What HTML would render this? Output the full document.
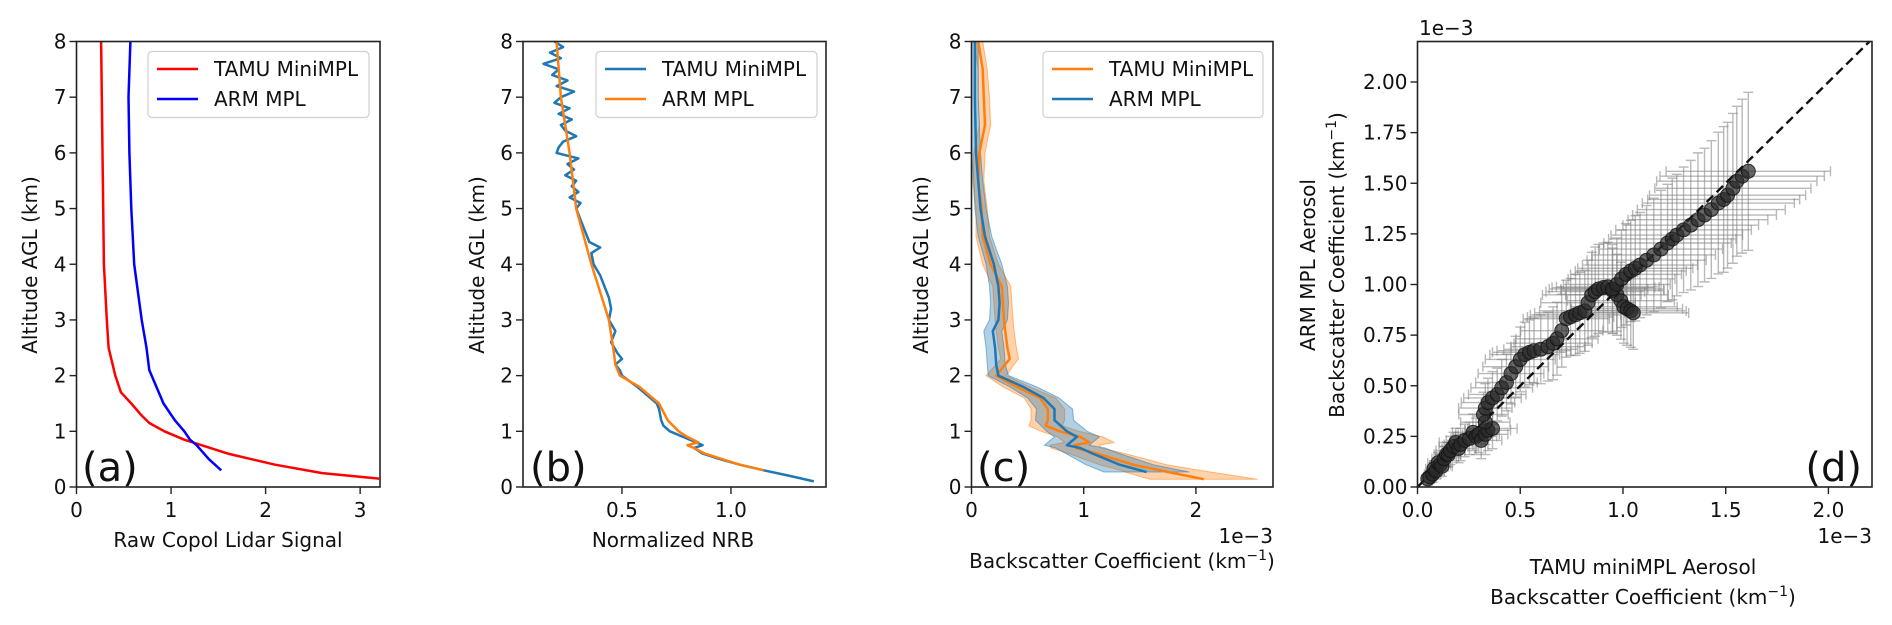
<!DOCTYPE html>
<html><head><meta charset="utf-8">
<style>
html,body{margin:0;padding:0;background:#fff;}
svg{display:block;font-family:"DejaVu Sans","Liberation Sans",sans-serif;}
</style></head>
<body>
<svg id="fig" width="1892" height="625" viewBox="0 0 1892 625" xmlns="http://www.w3.org/2000/svg"></svg>
<script>
// ---------- Panel (a) data ----------
const aRedAlt = [8,4,3,2.5,2,1.7,1.5,1.3,1.15,1.0,0.85,0.6,0.4,0.25,0.15];
const aRedVal = [0.26,0.29,0.32,0.34,0.41,0.47,0.58,0.68,0.77,0.93,1.14,1.6,2.1,2.6,3.2];
const aBlueAlt = [8,7,6,5,4,3,2.5,2.1,1.5,1.2,1.0,0.85,0.75,0.5,0.3];
const aBlueVal = [0.57,0.55,0.56,0.58,0.61,0.69,0.74,0.77,0.92,1.04,1.14,1.2,1.27,1.4,1.53];
const aXTicks = [0,1,2,3];
// ---------- Panel (b) data ----------
const bBlueAlt = [8,7.9,7.8,7.7,7.6,7.5,7.4,7.3,7.2,7.1,7.0,6.9,6.8,6.7,6.6,6.5,6.4,6.3,6.2,6.1,6.0,5.9,5.8,5.7,5.6,5.5,5.4,5.3,5.2,5.1,5.0,4.8,4.6,4.4,4.3,4.2,4.0,3.8,3.6,3.4,3.2,3.0,2.8,2.6,2.4,2.3,2.2,2.1,2.0,1.8,1.6,1.5,1.4,1.2,1.1,1.0,0.9,0.8,0.75,0.7,0.6,0.5,0.4,0.3,0.2,0.1];
const bBlueVal = [0.19,0.23,0.17,0.22,0.14,0.21,0.18,0.25,0.2,0.28,0.22,0.19,0.26,0.21,0.27,0.22,0.24,0.29,0.23,0.21,0.20,0.30,0.25,0.28,0.24,0.29,0.27,0.30,0.26,0.31,0.29,0.31,0.33,0.35,0.40,0.36,0.37,0.40,0.42,0.44,0.45,0.44,0.47,0.45,0.48,0.50,0.47,0.49,0.50,0.57,0.63,0.66,0.67,0.68,0.69,0.72,0.78,0.84,0.87,0.83,0.87,0.95,1.04,1.15,1.27,1.38];
const bOrangeAlt = [8,7,6,5,4,3,2.5,2.2,2.0,1.8,1.5,1.2,1.0,0.9,0.8,0.75,0.7,0.6,0.4,0.3];
const bOrangeVal = [0.20,0.22,0.26,0.29,0.36,0.44,0.46,0.47,0.49,0.58,0.67,0.71,0.76,0.80,0.85,0.80,0.83,0.88,1.04,1.15];
const bXTicks = [0.5,1.0];
// ---------- Panel (c) data (1e-3 km^-1) ----------
const cAlt = [8,7.5,7,6.5,6.2,6,5.5,5,4.5,4,3.6,3.3,3,2.8,2.5,2.3,2.2,2,1.8,1.6,1.4,1.2,1.1,1,0.9,0.8,0.75,0.7,0.6,0.4,0.3,0.27,0.14];
const cOrange = [0.06,0.10,0.11,0.12,0.09,0.07,0.06,0.09,0.10,0.17,0.27,0.28,0.29,0.30,0.32,0.34,0.30,0.22,0.40,0.61,0.68,0.68,0.66,0.79,0.97,1.05,0.92,0.93,1.12,1.44,1.68,1.75,2.07];
const cOrangeErr = [0.04,0.04,0.05,0.05,0.05,0.05,0.05,0.05,0.06,0.07,0.08,0.08,0.08,0.08,0.08,0.08,0.08,0.09,0.12,0.14,0.15,0.15,0.15,0.17,0.2,0.22,0.22,0.22,0.25,0.3,0.35,0.38,0.48];
const cBlueAlt = [8,7,6,5.5,5,4.5,4,3.6,3.3,3,2.8,2.5,2.2,2,1.8,1.6,1.4,1.2,1,0.9,0.8,0.75,0.7,0.6,0.4,0.27];
const cBlue = [0.03,0.03,0.04,0.06,0.08,0.12,0.20,0.24,0.25,0.24,0.19,0.21,0.22,0.24,0.46,0.64,0.74,0.74,0.85,0.94,0.88,0.85,0.97,1.08,1.32,1.56];
const cBlueErr = [0.03,0.03,0.04,0.04,0.05,0.06,0.07,0.08,0.08,0.08,0.08,0.08,0.08,0.09,0.12,0.14,0.16,0.17,0.18,0.2,0.2,0.2,0.22,0.24,0.3,0.38];
const cXTicks = [0,1,2];
// ---------- Panel (d) data (1e-3 km^-1) ----------
const dX = [0.05,0.06,0.074,0.08,0.09,0.10,0.11,0.119,0.13,0.141,0.15,0.16,0.175,0.186,0.2,0.21,0.23,0.253,0.27,0.285,0.298,0.31,0.33,0.343,0.365,0.33,0.321,0.33,0.343,0.365,0.388,0.41,0.433,0.455,0.478,0.50,0.522,0.545,0.567,0.60,0.635,0.66,0.679,0.702,0.724,0.745,0.769,0.79,0.814,0.83,0.848,0.865,0.881,0.905,0.926,0.95,0.971,0.99,1.004,1.02,1.038,1.05,0.948,0.97,0.993,1.015,1.038,1.06,1.083,1.115,1.150,1.185,1.217,1.24,1.262,1.295,1.330,1.365,1.397,1.43,1.464,1.49,1.509,1.535,1.554,1.58,1.610];
const dY = [0.04,0.05,0.063,0.09,0.08,0.12,0.11,0.102,0.14,0.161,0.16,0.18,0.2,0.220,0.19,0.21,0.23,0.240,0.27,0.25,0.260,0.23,0.26,0.280,0.289,0.32,0.358,0.39,0.417,0.44,0.457,0.49,0.516,0.56,0.594,0.63,0.654,0.665,0.673,0.68,0.693,0.71,0.732,0.772,0.831,0.84,0.850,0.86,0.870,0.91,0.949,0.965,0.978,0.985,0.988,0.97,0.949,0.92,0.890,0.88,0.870,0.860,0.978,1.0,1.028,1.05,1.067,1.08,1.096,1.12,1.146,1.175,1.205,1.225,1.244,1.27,1.293,1.32,1.343,1.37,1.402,1.42,1.441,1.475,1.510,1.535,1.559];
const dXErr = [0.03,0.03,0.04,0.04,0.04,0.05,0.05,0.05,0.06,0.06,0.06,0.07,0.07,0.08,0.08,0.08,0.09,0.09,0.1,0.1,0.1,0.1,0.11,0.11,0.12,0.12,0.12,0.13,0.13,0.14,0.14,0.15,0.15,0.16,0.16,0.17,0.17,0.18,0.18,0.18,0.18,0.19,0.2,0.2,0.21,0.21,0.22,0.22,0.22,0.23,0.24,0.24,0.24,0.25,0.25,0.25,0.25,0.26,0.26,0.27,0.27,0.27,0.25,0.26,0.26,0.27,0.27,0.28,0.28,0.29,0.3,0.3,0.31,0.31,0.32,0.33,0.33,0.34,0.35,0.36,0.37,0.37,0.38,0.38,0.39,0.4,0.4];
const dYErr = [0.03,0.03,0.04,0.04,0.04,0.05,0.05,0.05,0.06,0.06,0.06,0.07,0.07,0.07,0.07,0.08,0.08,0.08,0.09,0.09,0.09,0.09,0.1,0.1,0.1,0.11,0.11,0.12,0.12,0.13,0.13,0.14,0.14,0.15,0.15,0.16,0.16,0.16,0.16,0.17,0.17,0.18,0.18,0.18,0.19,0.19,0.2,0.2,0.2,0.21,0.21,0.22,0.22,0.22,0.22,0.21,0.2,0.19,0.18,0.18,0.18,0.18,0.22,0.23,0.24,0.25,0.25,0.26,0.26,0.27,0.28,0.29,0.29,0.3,0.3,0.31,0.32,0.33,0.33,0.34,0.35,0.36,0.36,0.37,0.37,0.38,0.39];
const dXTicks = [0.0,0.5,1.0,1.5,2.0];
const dYTicks = [0.00,0.25,0.50,0.75,1.00,1.25,1.50,1.75,2.00];
const altTicks = [0,1,2,3,4,5,6,7,8];

const NS = "http://www.w3.org/2000/svg";
const svg = document.getElementById('fig');
function el(tag, attrs, parent){ const e=document.createElementNS(NS,tag); for(const k in attrs) e.setAttribute(k,attrs[k]); (parent||svg).appendChild(e); return e; }
function txt(s, attrs, parent){ const t=el('text',attrs,parent); t.textContent=s; return t; }

const TOP=41.5, BOT=487;
function makeAxes(name, x0, x1, xmin, xmax, ymin, ymax, y0=TOP, y1=BOT){
  const g = el('g',{});
  
  
  return {g, sx:v=>x0+(v-xmin)/(xmax-xmin)*(x1-x0), sy:v=>y1-(v-ymin)/(ymax-ymin)*(y1-y0), x0,x1,y0,y1};
}
function frame(ax){
  const r = el('rect',{x:ax.x0,y:ax.y0,width:ax.x1-ax.x0,height:ax.y1-ax.y0,fill:'none',stroke:'#222','stroke-width':1.6},ax.g);
  
  
}
function xticks(ax, ticks, fmt){
  const g = el('g',{},ax.g);
  
  
  ticks.forEach(t=>{ const x=ax.sx(t);
    el('line',{x1:x,x2:x,y1:ax.y1,y2:ax.y1+7,stroke:'#222','stroke-width':1.4},g);
    txt(fmt(t),{x:x,y:ax.y1+30,'text-anchor':'middle','font-size':20,fill:'#111'},g); });
}
function yticks(ax, ticks, fmt){
  const g = el('g',{},ax.g);
  
  
  ticks.forEach(t=>{ const y=ax.sy(t);
    el('line',{x1:ax.x0-7,x2:ax.x0,y1:y,y2:y,stroke:'#222','stroke-width':1.4},g);
    txt(fmt(t),{x:ax.x0-10,y:y+7,'text-anchor':'end','font-size':20,fill:'#111'},g); });
}
function line(ax, xs, ys, color, name, w=2.5){
  const d = xs.map((v,i)=>(i?'L':'M')+ax.sx(v).toFixed(1)+','+ax.sy(ys[i]).toFixed(1)).join('');
  const p = el('path',{d, fill:'none', stroke:color,'stroke-width':w,'stroke-linejoin':'round'},ax.g);
  
  
  return p;
}
function band(ax, vals, errs, alts, color, name){
  const up = vals.map((v,i)=>ax.sx(v+errs[i]).toFixed(1)+','+ax.sy(alts[i]).toFixed(1));
  const lo = vals.map((v,i)=>ax.sx(Math.max(0,v-errs[i])).toFixed(1)+','+ax.sy(alts[i]).toFixed(1)).reverse();
  const p = el('polygon',{points:up.concat(lo).join(' '), fill:color,'fill-opacity':0.35, stroke:color,'stroke-opacity':0.5,'stroke-width':1},ax.g);
  
  
}
function legend(x, y, w, items, name){
  const g = el('g',{});
  
  
  el('rect',{x, y, width:w, height:66, rx:4, fill:'#fff','fill-opacity':0.85, stroke:'#d0d0d0','stroke-width':1.2},g);
  items.forEach((it,i)=>{ const yy=y+17.5+i*30;
    el('line',{x1:x+9,x2:x+50,y1:yy,y2:yy,stroke:it[1],'stroke-width':2.5},g);
    const t = txt(it[0],{x:x+66,y:yy+7,'font-size':20,fill:'#111'},g);
    
     });
}
function label(s, attrs, name){ const t=txt(s,attrs);   return t; }
function ylab(s, x, y, name){ return label(s,{x, y, transform:`rotate(-90 ${x} ${y})`, 'text-anchor':'middle','font-size':20,fill:'#111'}, name); }

// ---------- Panel (a) ----------
const A = makeAxes('panel-a', 76.5, 380, 0, 3.21, 0, 8);
line(A, aRedVal, aRedAlt, '#ff0000', 'tamu-minimpl-line');
line(A, aBlueVal, aBlueAlt, '#0000ff', 'arm-mpl-line');
frame(A);
xticks(A, aXTicks, t=>String(t));
yticks(A, altTicks, t=>String(t));
legend(148, 51.5, 221, [['TAMU MiniMPL','#ff0000'],['ARM MPL','#0000ff']], 'legend-a');
ylab('Altitude AGL (km)', 37, 265, 'y-axis-title-a');
label('Raw Copol Lidar Signal',{x:228,y:547,'text-anchor':'middle','font-size':20,fill:'#111'},'x-axis-title-a');
label('(a)',{x:82,y:481,'font-size':40,fill:'#111'},'panel-label-a');

// ---------- Panel (b) ----------
const B = makeAxes('panel-b', 523, 826, 0.046, 1.436, 0, 8);
line(B, bBlueVal, bBlueAlt, '#1f77b4', 'tamu-minimpl-line');
line(B, bOrangeVal, bOrangeAlt, '#ff7f0e', 'arm-mpl-line');
frame(B);
xticks(B, bXTicks, t=>t.toFixed(1));
yticks(B, altTicks, t=>String(t));
legend(596, 51.5, 221, [['TAMU MiniMPL','#1f77b4'],['ARM MPL','#ff7f0e']], 'legend-b');
ylab('Altitude AGL (km)', 484, 265, 'y-axis-title-b');
label('Normalized NRB',{x:673,y:547,'text-anchor':'middle','font-size':20,fill:'#111'},'x-axis-title-b');
label('(b)',{x:530,y:481,'font-size':40,fill:'#111'},'panel-label-b');

// ---------- Panel (c) ----------
const C = makeAxes('panel-c', 971.5, 1273, 0, 2.687, 0, 8);
band(C, cOrange, cOrangeErr, cAlt, '#ff7f0e', 'tamu-uncertainty-band');
band(C, cBlue, cBlueErr, cBlueAlt, '#1f77b4', 'arm-uncertainty-band');
line(C, cOrange, cAlt, '#ff7f0e', 'tamu-minimpl-line');
line(C, cBlue, cBlueAlt, '#1f77b4', 'arm-mpl-line');
frame(C);
xticks(C, cXTicks, t=>String(t));
yticks(C, altTicks, t=>String(t));
legend(1043, 51.5, 220, [['TAMU MiniMPL','#ff7f0e'],['ARM MPL','#1f77b4']], 'legend-c');
ylab('Altitude AGL (km)', 928, 265, 'y-axis-title-c');
label('1e\u22123',{x:1273,y:543,'text-anchor':'end','font-size':20,fill:'#111'},'x-offset-c');
const cl = label('Backscatter Coefficient (km',{x:1122,y:568,'text-anchor':'middle','font-size':20,fill:'#111'},'x-axis-title-c');
el('tspan',{dy:-8,'font-size':14},cl).textContent='\u22121';
el('tspan',{dy:8},cl).textContent=')';
label('(c)',{x:977,y:481,'font-size':40,fill:'#111'},'panel-label-c');

// ---------- Panel (d) ----------
const D = makeAxes('panel-d', 1417.5, 1872, 0, 2.212, 0, 2.2);
const eg = el('g',{},D.g);


dX.forEach((x,i)=>{ const y=dY[i];
  const xa=D.sx(x-dXErr[i]), xb=D.sx(x+dXErr[i]), yy=D.sy(y);
  const ya=D.sy(y-dYErr[i]), yb=D.sy(y+dYErr[i]), xx=D.sx(x);
  el('path',{d:`M${xa},${yy}H${xb}M${xa},${yy-5}V${yy+5}M${xb},${yy-5}V${yy+5}M${xx},${ya}V${yb}M${xx-5},${ya}H${xx+5}M${xx-5},${yb}H${xx+5}`,stroke:'#808080','stroke-opacity':0.55,'stroke-width':1.4,fill:'none'},eg);
});
const dl = el('line',{x1:D.sx(0),y1:D.sy(0),x2:D.sx(2.2),y2:D.sy(2.2),stroke:'#111','stroke-width':2.4,'stroke-dasharray':'9,5'},D.g);


dX.forEach((x,i)=>{
  const c = el('circle',{cx:D.sx(x),cy:D.sy(dY[i]),r:7,fill:'#2a2a2a','fill-opacity':0.7,stroke:'#111','stroke-opacity':0.8,'stroke-width':1},D.g);
  
  
});
frame(D);
xticks(D, dXTicks, t=>t.toFixed(1));
yticks(D, dYTicks, t=>t.toFixed(2));
label('1e\u22123',{x:1419,y:35,'font-size':20,fill:'#111'},'y-offset-d');
label('1e\u22123',{x:1872,y:543,'text-anchor':'end','font-size':20,fill:'#111'},'x-offset-d');
ylab('ARM MPL Aerosol', 1315, 265, 'y-axis-title-d-line1');
const yl2 = ylab('Backscatter Coefficient (km', 1344, 265, 'y-axis-title-d-line2');
el('tspan',{dy:-8,'font-size':14},yl2).textContent='\u22121';
el('tspan',{dy:8},yl2).textContent=')';
label('TAMU miniMPL Aerosol',{x:1643,y:574,'text-anchor':'middle','font-size':20,fill:'#111'},'x-axis-title-d-line1');
const xl2 = label('Backscatter Coefficient (km',{x:1643,y:604,'text-anchor':'middle','font-size':20,fill:'#111'},'x-axis-title-d-line2');
el('tspan',{dy:-8,'font-size':14},xl2).textContent='\u22121';
el('tspan',{dy:8},xl2).textContent=')';
label('(d)',{x:1862,y:481,'text-anchor':'end','font-size':40,fill:'#111'},'panel-label-d');
</script>
</body></html>
